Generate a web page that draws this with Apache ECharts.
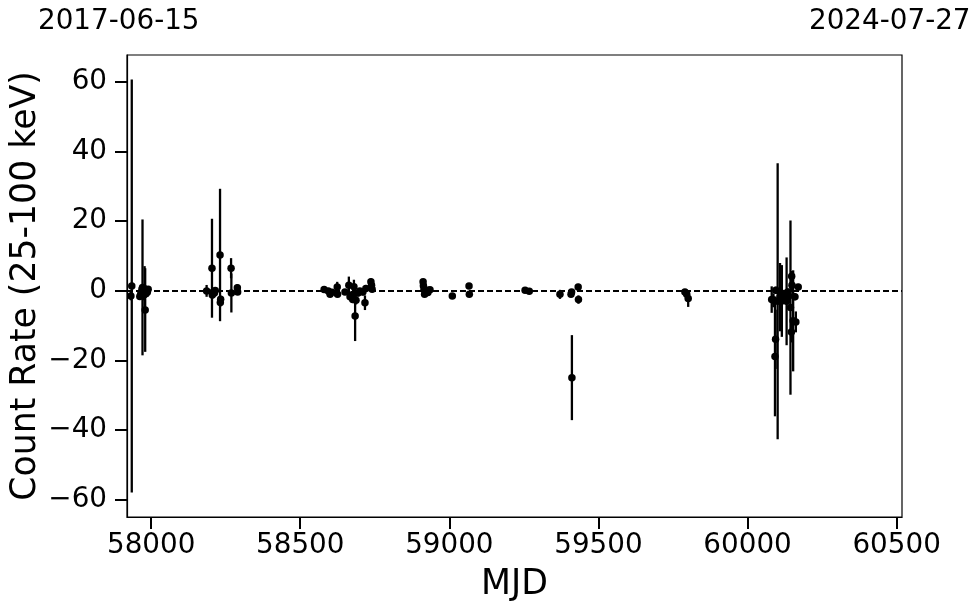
<!DOCTYPE html>
<html>
<head>
<meta charset="utf-8">
<script src="https://cdn.jsdelivr.net/npm/echarts@6/dist/echarts.min.js"></script>
<style>html,body{margin:0;padding:0;background:#fff;}#c{width:980px;height:613px;}</style>
</head>
<body>
<div id="c"></div>
<script>
const mjd = [57932, 57935, 57962, 57965, 57969, 57971, 57973, 57976, 57978, 57980, 57982, 57984, 57987, 57990,
  58186, 58204, 58205, 58208, 58212, 58215, 58231, 58232, 58233, 58268, 58269, 58289, 58290,
  58580, 58594, 58600, 58606, 58624, 58625, 58650, 58663, 58667, 58673, 58676, 58680, 58684, 58687, 58694, 58700, 58710, 58717, 58720, 58737, 58739, 58741,
  58912, 58913, 58915, 58917, 58927, 58928, 58935, 59010, 59066, 59067,
  59254, 59268, 59371, 59408, 59410, 59411, 59432, 59433,
  59790, 59796, 59801,
  60081, 60087, 60092, 60094, 60095, 60101, 60109, 60112, 60115, 60122, 60131, 60135, 60138, 60144, 60147, 60148, 60149, 60153, 60159, 60162, 60170];
const rate = [-1.5, 1.4, -1.6, -0.9, 0.4, 1.0, -1.2, -0.3, 0.6, -5.5, -0.8, 0.2, -0.4, 0.5,
  0.0, 6.5, -1.2, -0.3, -0.6, 0.1, 10.3, -3.3, -2.4, 6.5, -0.6, 0.9, -0.3,
  0.4, 0.0, -1.0, -0.4, 1.1, -1.0, -0.3, 1.6, -1.7, -1.2, -2.5, 1.2, -7.2, -2.7, -0.6, 0.0, -0.3, -3.4, 0.7, 2.6, 1.6, 0.5,
  2.6, 1.5, 0.4, -1.0, 0.2, -0.5, 0.3, -1.5, 1.4, -1.0,
  0.2, -0.1, -1.0, -1.0, -0.3, -24.9, 1.1, -2.5,
  -0.3, -1.0, -2.2,
  -2.5, -2.7, -18.8, -13.9, 0.2, -3.0, -1.8, -0.8, -2.9, -1.2, -3.0, -0.3, -1.5, -4.8, -11.8, 4.2, 1.6, -8.6, -1.7, -8.9, 1.1];
const err = [1.2, 59.3, 1.0, 0.8, 0.9, 19.5, 1.5, 1.8, 6.5, 12.0, 1.2, 1.0, 1.3, 0.9,
  1.7, 14.2, 1.0, 0.8, 1.0, 0.8, 19.0, 1.2, 1.0, 2.9, 5.6, 1.0, 0.7,
  0.6, 0.5, 0.6, 0.5, 1.5, 0.8, 0.6, 2.5, 1.0, 1.2, 1.0, 2.0, 7.2, 1.2, 1.0, 0.8, 1.0, 2.1, 1.0, 1.0, 1.0, 0.8,
  0.8, 0.8, 1.0, 0.6, 0.6, 0.6, 0.5, 0.5, 0.8, 0.6,
  0.4, 0.4, 1.3, 0.6, 0.8, 12.2, 0.9, 1.2,
  0.6, 0.7, 2.4,
  3.8, 2.0, 17.2, 8.5, 1.0, 39.6, 9.8, 1.5, 10.3, 1.5, 12.6, 1.0, 1.0, 25.0, 3.0, 1.5, 2.0, 14.5, 1.0, 3.0, 0.9];
const xTicks = [58000, 58500, 59000, 59500, 60000, 60500];
const yTicks = [-60, -40, -20, 0, 20, 40, 60];
const dateLabels = ['2017-06-15', '2024-07-27'];
const xLabel = 'MJD';
const yLabel = 'Count Rate (25-100 keV)';

const FONT = 'DejaVu Sans';
const chart = echarts.init(document.getElementById('c'), null, {renderer: 'canvas'});
const points = mjd.map((m, i) => [m, rate[i]]);
const bars = mjd.map((m, i) => [m, rate[i] - err[i], rate[i] + err[i]]);

chart.setOption({
  animation: false,
  backgroundColor: '#fff',
  grid: {left: 127, right: 78, top: 55, bottom: 96, show: true, borderColor: '#000', borderWidth: 1.2,
    backgroundColor: 'transparent', containLabel: false, outerBoundsMode: 'none'},
  xAxis: {
    type: 'value', min: 57919, max: 60518,
    name: xLabel, nameLocation: 'middle', nameGap: 50, nameMoveOverlap: false,
    nameTextStyle: {fontFamily: FONT, fontSize: 34.7, color: '#000'},
    axisLine: {show: true, onZero: false, lineStyle: {color: '#000', width: 1.2}},
    axisTick: {show: true, length: 12, lineStyle: {color: '#000', width: 2}, customValues: xTicks},
    axisLabel: {show: true, margin: 15, fontFamily: FONT, fontSize: 27.8, color: '#000', customValues: xTicks, formatter: v => String(v)},
    splitLine: {show: false}
  },
  yAxis: {
    type: 'value', min: -64.9, max: 67.7,
    name: yLabel, nameLocation: 'middle', nameGap: 84, nameMoveOverlap: false,
    nameTextStyle: {fontFamily: FONT, fontSize: 34.7, color: '#000'},
    axisLine: {show: true, onZero: false, lineStyle: {color: '#000', width: 1.2}},
    axisTick: {show: true, length: 12, lineStyle: {color: '#000', width: 2}, customValues: yTicks},
    axisLabel: {show: true, margin: 20, fontFamily: FONT, fontSize: 27.8, color: '#000', customValues: yTicks,
      formatter: v => (v < 0 ? '\u2212' + Math.abs(v) : String(v))},
    splitLine: {show: false}
  },
  graphic: [
    {type: 'text', left: 118 - 80, top: 8, style: {text: dateLabels[0], font: '27.8px "DejaVu Sans"', fill: '#000'}},
    {type: 'text', left: 889 - 80, top: 8, style: {text: dateLabels[1], font: '27.8px "DejaVu Sans"', fill: '#000'}}
  ],
  series: [
    {
      type: 'custom', data: bars, clip: true, silent: true,
      encode: {x: 0, y: [1, 2]},
      renderItem: function (params, api) {
        const x = api.value(0);
        const p1 = api.coord([x, api.value(1)]);
        const p2 = api.coord([x, api.value(2)]);
        return {type: 'line', shape: {x1: p1[0], y1: p1[1], x2: p2[0], y2: p2[1]}, style: {stroke: '#000', lineWidth: 2.3}};
      },
      z: 2
    },
    {
      type: 'scatter', data: points, symbol: 'circle', symbolSize: 7.5,
      itemStyle: {color: '#000', opacity: 1}, silent: true, z: 3,
      markLine: {
        silent: true, symbol: 'none', label: {show: false},
        lineStyle: {color: '#000', width: 1.8, type: [6, 3], opacity: 1},
        data: [{yAxis: 0}]
      }
    }
  ]
});
</script>
</body>
</html>
